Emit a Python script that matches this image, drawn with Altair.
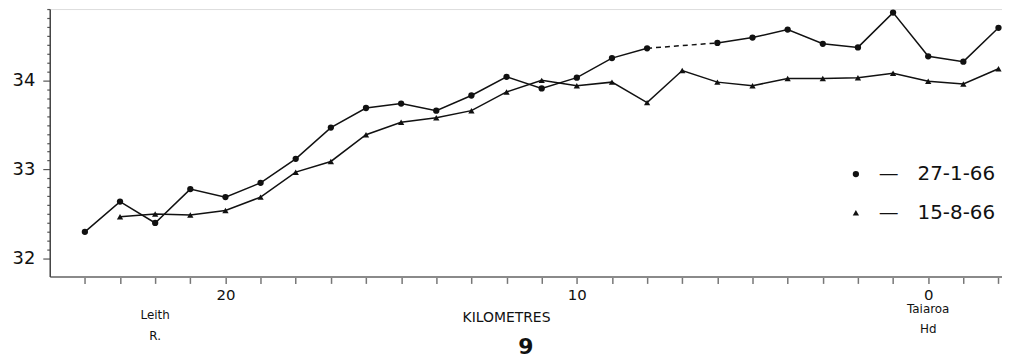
import altair as alt
import pandas as pd

# ---- data ----
km_jan = list(range(24, -3, -1))
sal_jan = [32.30, 32.64, 32.40, 32.78, 32.69, 32.85, 33.12, 33.47, 33.69, 33.74,
           33.66, 33.83, 34.04, 33.91, 34.03, 34.25, 34.36, None, 34.42, 34.48,
           34.57, 34.41, 34.37, 34.76, 34.27, 34.21, 34.59]
km_aug = list(range(23, -3, -1))
sal_aug = [32.47, 32.50, 32.49, 32.54, 32.69, 32.97, 33.09, 33.39, 33.53, 33.58,
           33.66, 33.87, 34.00, 33.94, 33.98, 33.75, 34.11, 33.98, 33.94, 34.02,
           34.02, 34.03, 34.08, 33.99, 33.96, 34.13]
series_names = ["27-1-66", "15-8-66"]
series_shapes = ["circle", "triangle-up"]

x_tick_values = list(range(24, -3, -1))
x_label_values = [20, 10, 0]
y_tick_values = [round(32 + 0.1 * i, 1) for i in range(0, 29)]
y_label_values = [32, 33, 34]

place_km = [22, 0]
place_names = [["Leith", "R."], ["Taiaroa", "Hd"]]

# ---- build tables ----
rows = []
for name, kms, vals in [(series_names[0], km_jan, sal_jan), (series_names[1], km_aug, sal_aug)]:
    seg = 0
    for k, v in zip(kms, vals):
        if v is None:
            seg += 1
            continue
        rows.append({"km": k, "sal": v, "series": name, "grp": f"{name}-{seg}"})
df = pd.DataFrame(rows)

# dashed bridge over the missing station
bridge = []
for name, kms, vals in [(series_names[0], km_jan, sal_jan), (series_names[1], km_aug, sal_aug)]:
    for i, v in enumerate(vals):
        if v is None and 0 < i < len(vals) - 1:
            bridge.append({"km": kms[i - 1], "sal": vals[i - 1], "grp": f"{name}-b{i}"})
            bridge.append({"km": kms[i + 1], "sal": vals[i + 1], "grp": f"{name}-b{i}"})
bdf = pd.DataFrame(bridge)

FONT = "DejaVu Sans"
INK = "#111111"

x_scale = alt.Scale(domain=[25, -2.1], nice=False, zero=False)
y_scale = alt.Scale(domain=[31.8, 34.8], nice=False, zero=False)

lab_test = "indexof([" + ",".join(str(v) for v in x_label_values) + "], datum.value) >= 0"
x_axis = alt.Axis(
    values=x_tick_values,
    labelExpr=f"{lab_test} ? datum.label : ''",
    labelOverlap=False,
    tickSize=7, tickColor="#777777", tickWidth=1.5,
    domainColor="#8a8a8a", domainWidth=2,
    labelFont=FONT, labelFontSize=15, labelColor=INK, labelPadding=4,
    grid=False,
    title="KILOMETRES", titleFont=FONT, titleFontSize=14, titleFontWeight="normal",
    titleColor=INK, titleX=459, titleY=41, titleBaseline="middle", titleAlign="center",
)
y_test = "abs(datum.value - round(datum.value)) < 0.01"
y_axis = alt.Axis(
    values=y_tick_values,
    labelExpr=f"{y_test} ? format(datum.value, 'd') : ''",
    labelOverlap=False,
    tickSize={"condition": {"test": y_test, "value": 7}, "value": 3},
    tickColor="#555555", tickWidth=1.2,
    domainColor="#444444", domainWidth=1.5,
    labelFont=FONT, labelFontSize=18, labelColor=INK, labelPadding=8,
    grid=False, title=None,
)

base = alt.Chart(df)

lines = base.mark_line(color=INK, strokeWidth=1.5).encode(
    x=alt.X("km:Q", scale=x_scale, axis=x_axis),
    y=alt.Y("sal:Q", scale=y_scale, axis=y_axis),
    detail="grp:N",
)

dashed = alt.Chart(bdf).mark_line(color=INK, strokeWidth=1.5, strokeDash=[5, 4]).encode(
    x=alt.X("km:Q", scale=x_scale, axis=x_axis),
    y=alt.Y("sal:Q", scale=y_scale, axis=y_axis),
    detail="grp:N",
)

points = base.mark_point(filled=True, color=INK, opacity=1, strokeWidth=0, size=40).encode(
    x=alt.X("km:Q", scale=x_scale, axis=x_axis),
    y=alt.Y("sal:Q", scale=y_scale, axis=y_axis),
    shape=alt.Shape(
        "series:N",
        scale=alt.Scale(domain=series_names, range=series_shapes),
        legend=alt.Legend(
            title=None, orient="none", legendX=801, legendY=156, padding=0,
            symbolFillColor=INK, symbolStrokeColor=INK, symbolStrokeWidth=0,
            symbolSize=40, labelFont=FONT, labelFontSize=20, labelColor=INK,
            labelOffset=13, rowPadding=19,
            labelExpr="'\u2014\u00a0\u00a0\u00a0' + datum.label",
        ),
    ),
)

places = pd.DataFrame({"km": place_km, "name": place_names})
leith = alt.Chart(places.iloc[[0]]).mark_text(
    font=FONT, fontSize=12, color=INK, baseline="middle", lineHeight=21
).encode(
    x=alt.X("km:Q", scale=x_scale, axis=x_axis),
    y=alt.value(308),
    text="name",
)
taiaroa = alt.Chart(places.iloc[[1]]).mark_text(
    font=FONT, fontSize=12, color=INK, baseline="middle", lineHeight=20
).encode(
    x=alt.X("km:Q", scale=x_scale, axis=x_axis),
    y=alt.value(302),
    text="name",
)

chart = alt.layer(lines, dashed, points, leith, taiaroa).properties(
    width=958,
    height=269,
    autosize=alt.AutoSizeParams(type="none"),
    padding={"left": 42, "top": 0, "right": 0, "bottom": 82},
    title=alt.TitleParams("9", orient="bottom", fontSize=22, fontWeight="bold",
                          font=FONT, color=INK, offset=-5, anchor="middle"),
).configure_view(stroke=None).configure(background="white")

chart.save("out.html", embed_options={"renderer": "svg", "actions": False})
